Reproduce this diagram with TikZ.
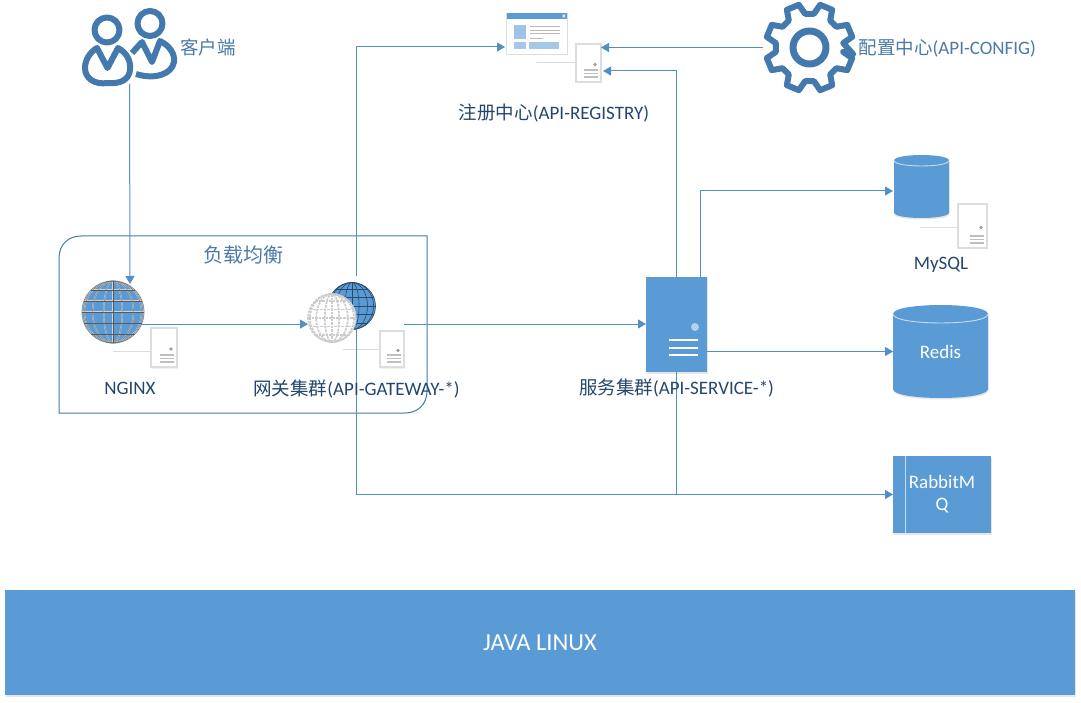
\documentclass[tikz,border=0pt]{standalone}
\usepackage{fontspec}
\setmainfont{Carlito}
\newfontfamily\cjk{Noto Sans CJK SC}
\usetikzlibrary{arrows.meta,shadows}
\definecolor{srvblue}{HTML}{5B9BD5}
\definecolor{iconblue}{HTML}{4479AE}
\definecolor{darktext}{HTML}{24466E}
\definecolor{softtext}{HTML}{4A7AA6}
\definecolor{paleline}{HTML}{DADDE1}
\tikzset{
  conn/.style={srvblue!92!black,line width=1pt},
  arr/.style={conn,-{Triangle[length=8pt,width=9pt]}},
  icon/.style={iconblue,line width=6pt,line join=round},
  label/.style={darktext,font=\fontsize{19}{22}\selectfont,inner sep=0pt},
  softlabel/.style={label,text=softtext},
  ghost/.style={inner sep=0pt,outer sep=0pt},
  softshadow/.style={drop shadow={opacity=0.2,shadow xshift=0.5pt,shadow yshift=-1.5pt}},
  bluebox/.style={fill=srvblue,inner sep=0pt,outer sep=0pt,softshadow},
  seam/.style={white!65!srvblue,line width=0.9pt},
  tinybox/.style={draw=paleline,fill=white,line width=1.1pt,inner sep=0pt,outer sep=0pt,drop shadow={opacity=0.12,shadow xshift=1pt,shadow yshift=-1.5pt}}
}
% Globe: centre x, centre y, radius, fill, line options
\newcommand{\globeicon}[5]{
  \begin{scope}[shift={(#1,#2)}]
    \path[#4] (0,0) circle (#3);
    \foreach \k in {0.3,0.66,0.92}
      \draw[#5] (0,0) ellipse ({\k*#3} and #3);
    \draw[#5] (0,-#3) -- (0,#3);
    \foreach \k in {-0.72,-0.36,0,0.36,0.72}
      \draw[#5] ({-#3*sqrt(1-\k*\k)},{\k*#3}) -- ({#3*sqrt(1-\k*\k)},{\k*#3});
    \draw[#5] (0,0) circle (#3);
  \end{scope}
}
\newcommand{\zh}[1]{{\cjk\fontsize{18.5}{22}\selectfont #1}}
\begin{document}
\begin{tikzpicture}[x=1pt,y=-1pt]
  \useasboundingbox (0,0) rectangle (1081,703);
  % Bottom bar
  \node[bluebox,minimum width=1070,minimum height=105,text=white,font=\fontsize{24.5}{28}\selectfont] (platform) at (540,642.5) {JAVA LINUX};
  % Load balancing frame
  \draw[iconblue,line width=1pt] (81,236) -- (427,236) -- (427,391) .. controls (427,405) and (417,413) .. (405,413) -- (59,413) -- (59,258) .. controls (59,244) and (69,236) .. (81,236) -- cycle;
  \node[softlabel] (lblabel) at (243,255) {{\cjk\fontsize{20}{22}\selectfont 负载均衡}};
  % Places of the icons
  \node[ghost,minimum width=93,minimum height=82] (client) at (129.5,43) {};
  \node[ghost,shape=circle,minimum size=62] (nginxglobe) at (113,312) {};
  \node[ghost,minimum width=96,minimum height=96] (gw) at (356,324) {};
  \node[ghost,minimum width=61,minimum height=41] (regwin) at (536.5,33.5) {};
  \node[ghost,shape=circle,minimum size=94] (gear) at (809.5,47.5) {};
  \coordinate (nginxin) at (130,284);
  \coordinate (regin) at (505,47);
  \coordinate (regsrv) at (603,71);
  \coordinate (srvout) at (700,277);
  \coordinate (mysqlin) at (893,191);
  % Small server boxes
  \foreach \nm/\bx/\by/\bw/\bh/\sl/\sd in {nginxbox/164/347.5/26/39/38/3.5,gwbox/392/349/24/36/37/0,regbox/588.5/63/25/38/40/0,mysqlbox/972.5/226/29/44/38/2}{
    \node[tinybox,minimum width=\bw,minimum height=\bh] (\nm) at (\bx,\by) {};
    \draw[paleline,line width=1pt] ([yshift=-\sd pt]\nm.west) -- ++(-\sl,0);
    \fill[gray!75] ([yshift=-1.5pt]\nm.center) ++(0.5*\bw-6,0) circle (1.9);
    \foreach \dy in {5,8.5,12}
      \draw[gray!50,line width=1.3pt] ([xshift=-3.5pt]\nm.south east) ++(0,-\dy) -- ++(-14,0);
  }
  % Service server
  \node[bluebox,minimum width=61,minimum height=95] (srv) at (676.5,324.5) {};
  \fill[white!55!srvblue] (695,327) circle (4);
  \foreach \ly in {340,348,355}
    \draw[white,line width=1.8pt] (669,\ly) -- (698,\ly);
  % Stores
  \foreach \nm/\cx/\cy/\hw/\hh/\ry/\tx in {mysql/921.5/186.5/27.5/31.5/5.5/{},redis/940.5/351.5/47.5/46.5/9/Redis}{
    \fill[srvblue,softshadow,shift={(\cx,\cy)}] (-\hw,{-\hh+\ry}) .. controls (-\hw,{-\hh-0.33*\ry}) and (\hw,{-\hh-0.33*\ry}) .. (\hw,{-\hh+\ry}) -- (\hw,{\hh-\ry}) .. controls (\hw,{\hh+0.33*\ry}) and (-\hw,{\hh+0.33*\ry}) .. (-\hw,{\hh-\ry}) -- cycle;
    \draw[seam,shift={(\cx,\cy)}] (-\hw,{-\hh+\ry}) .. controls (-\hw,{-\hh+2.33*\ry}) and (\hw,{-\hh+2.33*\ry}) .. (\hw,{-\hh+\ry});
    \node[ghost,minimum width=2*\hw,minimum height=2*\hh,text=white,font=\fontsize{19}{22}\selectfont] (\nm) at (\cx,\cy) {\tx};
  }
  \node[bluebox,minimum width=98,minimum height=77,text=white,font=\fontsize{19}{22}\selectfont,align=center] (rabbit) at (942,494.5) {RabbitM\\Q};
  \draw[seam] (905,456) -- (905,533);
  % Connectors
  \draw[arr] (client.south) -- (nginxin);
  \draw[arr] (nginxglobe.-23) -- (gw.west |- nginxglobe.-23);
  \draw[arr] (gw.north) |- (regin);
  \draw[arr] (gw.center) |- (rabbit.west);
  \draw[arr] (gw.east) -- (srv.west |- gw.east);
  \draw[arr] (gear.west) -- (gear.west -| regbox.east);
  \draw[arr] (srv.north) |- (regsrv);
  \draw[arr] (srvout) |- (mysqlin);
  \draw[arr] (srv.east |- redis.west) -- (redis.west);
  \draw[conn] (srv.south) -- (srv.south |- rabbit.west);
  % Globes
  \globeicon{113}{312}{31}{fill=srvblue}{gray!35,line width=1.2pt}
  \globeicon{113}{312}{31}{}{black!65,line width=0.3pt}
  \globeicon{352}{306}{23.5}{fill=srvblue}{iconblue!60!black,line width=0.6pt}
  \globeicon{332}{318}{24}{fill=white}{gray!40,line width=1.7pt,dash pattern=on 2.5pt off 1pt}
  % Clients
  \draw[icon] (107,30) circle (12.5);
  \draw[icon] (97,48) -- (107.5,68) -- (118,48) .. controls (127,53) and (131,61) .. (130,70) .. controls (129,80) and (120,84) .. (108,83) .. controls (94,85) and (85,78) .. (85,68) .. controls (85,60) and (90,52) .. (97,48) -- cycle;
  \draw[icon] (150,23.5) circle (12.5);
  \draw[icon] (132,53) -- (142,42) -- (152,62) -- (160,41) .. controls (170,46) and (175,54) .. (174,62) .. controls (172,74) and (155,80) .. (136,74);
  % Registry window
  \fill[white,softshadow] (506.5,13) rectangle (567,54);
  \draw[paleline,line width=0.8pt] (506.5,13) rectangle (567,54);
  \fill[srvblue] (506.5,13) rectangle (567,19.5);
  \draw[white,line width=0.7pt] (562.5,14.5) -- (565,17.5) (565,14.5) -- (562.5,17.5);
  \fill[srvblue!60] (514,25) rectangle (526,39);
  \fill[srvblue!55] (514,42) rectangle (526,49);
  \fill[srvblue!55] (529,42) rectangle (559,49);
  \foreach \ly/\lx in {26/560,30/560,33/560,38/543}
    \draw[gray!55,line width=0.8pt] (530,\ly) -- (\lx,\ly);
  % Gear
  \draw[icon,shift={(gear.center)}] (8.5:44) foreach \a in {22.5,67.5,...,337.5} { -- ({\a-15}:34) -- ({\a-8.5}:44) -- ({\a+8.5}:44) -- ({\a+15}:34) } -- cycle;
  \draw[icon,line width=7pt] (gear.center) circle (16.5);
  % Labels
  \node[softlabel,anchor=west] (clientlabel) at (180,47) {\zh{客户端}};
  \node[softlabel,anchor=west] (gearlabel) at (858.5,48) {\zh{配置中心}(API-CONFIG)};
  \node[label] (reglabel) at (554,113) {\zh{注册中心}(API-REGISTRY)};
  \node[label] (nginxlabel) at (130,388) {NGINX};
  \node[label] (gwlabel) at (356.5,389) {\zh{网关集群}(API-GATEWAY-*)};
  \node[label] (srvlabel) at (676.5,388) {\zh{服务集群}(API-SERVICE-*)};
  \node[label] (mysqllabel) at (941,265) {MySQL};
\end{tikzpicture}
\end{document}
